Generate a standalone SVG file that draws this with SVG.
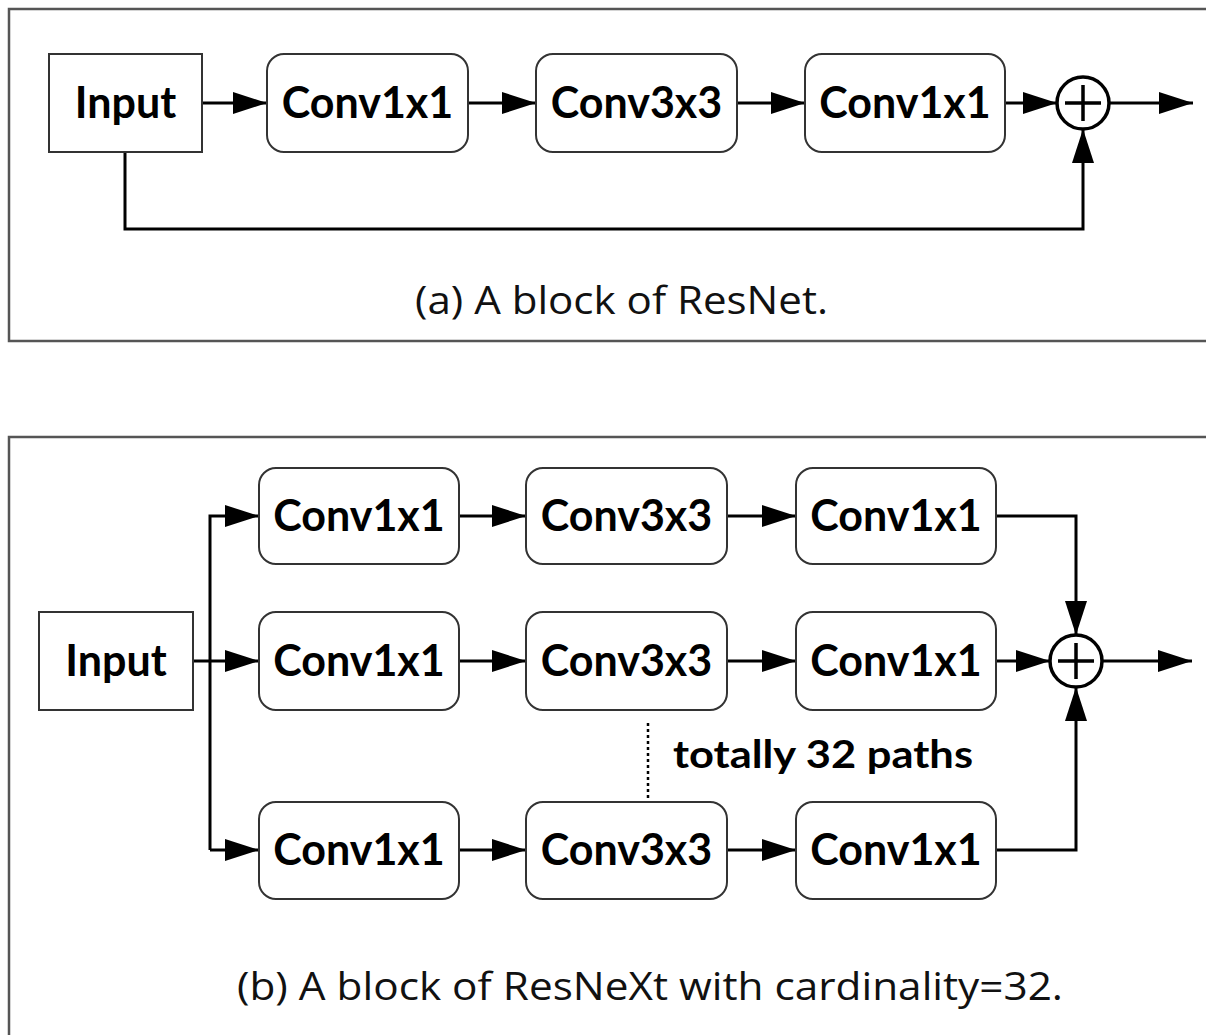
<svg xmlns="http://www.w3.org/2000/svg" width="1206" height="1035" viewBox="0 0 1206 1035">
  <defs>
    <marker id="arrow" viewBox="0 0 34 22" refX="34" refY="11" markerWidth="34" markerHeight="22" markerUnits="userSpaceOnUse" orient="auto">
      <path d="M0,0 L34,11 L0,22 Z" fill="#000"/>
    </marker>
    <style>
      .panel { fill: #fff; stroke: #555; stroke-width: 2.5; }
      .box { fill: #fff; stroke: #333; stroke-width: 2; }
      .label { font-family: Lato, "Open Sans", sans-serif; font-weight: 700; font-size: 43px; fill: #000; text-anchor: middle; }
      .note { font-family: Lato, "Open Sans", sans-serif; font-weight: 700; font-size: 39px; fill: #000; }
      .caption { font-family: "Open Sans", "Noto Sans", sans-serif; font-size: 39px; fill: #111; text-anchor: middle; }
      .wire { fill: none; stroke: #000; stroke-width: 3; }
      .sum { fill: #fff; stroke: #000; stroke-width: 3.5; }
      .plus { stroke: #000; stroke-width: 3.5; }
    </style>
  </defs>

  <rect width="1206" height="1035" fill="#fff"/>

  <!-- Panel (a): ResNet block -->
  <rect class="panel" x="9" y="9" width="1220" height="332"/>
  <!-- Panel (b): ResNeXt block -->
  <rect class="panel" x="9" y="437" width="1220" height="640"/>

  <!-- connectors -->
  <g id="connectors">
    <!-- (a) -->
    <path class="wire" d="M202,103 H267" marker-end="url(#arrow)"/>
    <path class="wire" d="M468,103 H536" marker-end="url(#arrow)"/>
    <path class="wire" d="M737,103 H805" marker-end="url(#arrow)"/>
    <path class="wire" d="M1005,103 H1057" marker-end="url(#arrow)"/>
    <path class="wire" d="M1109,103 H1193" marker-end="url(#arrow)"/>
    <path class="wire" d="M125,152 V229 H1083 V129" marker-end="url(#arrow)"/>

    <!-- (b) fan-out -->
    <path class="wire" d="M193,661 H259" marker-end="url(#arrow)"/>
    <path class="wire" d="M210,850 V516 H259" marker-end="url(#arrow)"/>
    <path class="wire" d="M210,850 H259" marker-end="url(#arrow)"/>
    <!-- (b) row links -->
    <path class="wire" d="M459,516 H526" marker-end="url(#arrow)"/>
    <path class="wire" d="M727,516 H796" marker-end="url(#arrow)"/>
    <path class="wire" d="M459,661 H526" marker-end="url(#arrow)"/>
    <path class="wire" d="M727,661 H796" marker-end="url(#arrow)"/>
    <path class="wire" d="M459,850 H526" marker-end="url(#arrow)"/>
    <path class="wire" d="M727,850 H796" marker-end="url(#arrow)"/>
    <!-- (b) merge -->
    <path class="wire" d="M996,516 H1076 V635" marker-end="url(#arrow)"/>
    <path class="wire" d="M996,661 H1050" marker-end="url(#arrow)"/>
    <path class="wire" d="M996,850 H1076 V687" marker-end="url(#arrow)"/>
    <path class="wire" d="M1102,661 H1192" marker-end="url(#arrow)"/>
    <!-- elided paths -->
    <path d="M648,723 V800" fill="none" stroke="#000" stroke-width="2.5" stroke-dasharray="3 3"/>
  </g>

  <!-- (a) nodes -->
  <g id="a-input">
    <rect class="box" x="49" y="54" width="153" height="98"/>
    <text class="label" x="125.5" y="118">Input</text>
  </g>
  <g id="a-conv1">
    <rect class="box" x="267" y="54" width="201" height="98" rx="17"/>
    <text class="label" x="367.5" y="118">Conv1x1</text>
  </g>
  <g id="a-conv2">
    <rect class="box" x="536" y="54" width="201" height="98" rx="17"/>
    <text class="label" x="636.5" y="118">Conv3x3</text>
  </g>
  <g id="a-conv3">
    <rect class="box" x="805" y="54" width="200" height="98" rx="17"/>
    <text class="label" x="905" y="118">Conv1x1</text>
  </g>
  <g id="a-sum">
    <circle class="sum" cx="1083" cy="103" r="26"/>
    <path class="plus" d="M1065,103 H1101 M1083,85 V121"/>
  </g>
  <text id="a-caption" class="caption" x="621.5" y="314" textLength="413" lengthAdjust="spacingAndGlyphs">(a) A block of ResNet.</text>

  <!-- (b) nodes -->
  <g id="b-input">
    <rect class="box" x="39" y="612" width="154" height="98"/>
    <text class="label" x="116" y="676">Input</text>
  </g>
  <g id="b-r1c1">
    <rect class="box" x="259" y="468" width="200" height="96" rx="17"/>
    <text class="label" x="359" y="531">Conv1x1</text>
  </g>
  <g id="b-r1c2">
    <rect class="box" x="526" y="468" width="201" height="96" rx="17"/>
    <text class="label" x="626.5" y="531">Conv3x3</text>
  </g>
  <g id="b-r1c3">
    <rect class="box" x="796" y="468" width="200" height="96" rx="17"/>
    <text class="label" x="896" y="531">Conv1x1</text>
  </g>
  <g id="b-r2c1">
    <rect class="box" x="259" y="612" width="200" height="98" rx="17"/>
    <text class="label" x="359" y="676">Conv1x1</text>
  </g>
  <g id="b-r2c2">
    <rect class="box" x="526" y="612" width="201" height="98" rx="17"/>
    <text class="label" x="626.5" y="676">Conv3x3</text>
  </g>
  <g id="b-r2c3">
    <rect class="box" x="796" y="612" width="200" height="98" rx="17"/>
    <text class="label" x="896" y="676">Conv1x1</text>
  </g>
  <g id="b-r3c1">
    <rect class="box" x="259" y="802" width="200" height="97" rx="17"/>
    <text class="label" x="359" y="865">Conv1x1</text>
  </g>
  <g id="b-r3c2">
    <rect class="box" x="526" y="802" width="201" height="97" rx="17"/>
    <text class="label" x="626.5" y="865">Conv3x3</text>
  </g>
  <g id="b-r3c3">
    <rect class="box" x="796" y="802" width="200" height="97" rx="17"/>
    <text class="label" x="896" y="865">Conv1x1</text>
  </g>
  <g id="b-sum">
    <circle class="sum" cx="1076" cy="661" r="26"/>
    <path class="plus" d="M1058,661 H1094 M1076,643 V679"/>
  </g>
  <text id="b-note" class="note" x="673" y="768" textLength="300" lengthAdjust="spacingAndGlyphs">totally 32 paths</text>
  <text id="b-caption" class="caption" x="650" y="1000" textLength="826" lengthAdjust="spacingAndGlyphs">(b) A block of ResNeXt with cardinality=32.</text>
</svg>
